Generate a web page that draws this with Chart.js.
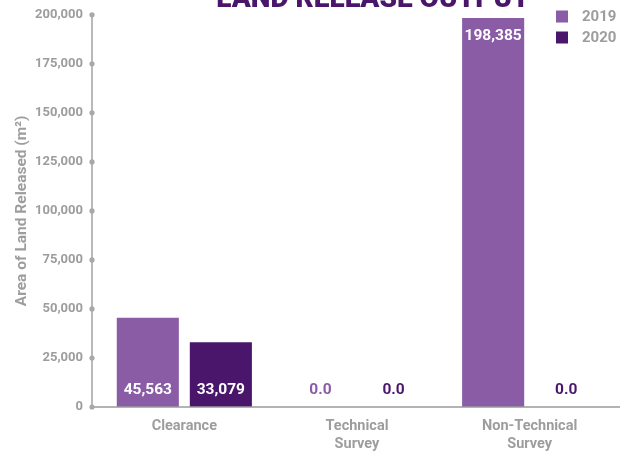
<!DOCTYPE html>
<html>
<head>
<meta charset="utf-8">
<script src="https://cdn.jsdelivr.net/npm/chart.js@4/dist/chart.umd.min.js"></script>
<style>
  html, body { margin: 0; padding: 0; background: #fff; }
  #wrap { width: 620px; height: 454px; position: relative; }
</style>
</head>
<body>
<div id="wrap"><canvas id="landChart"></canvas></div>
<script>
// ==== DATA ====
const categories = [['Clearance'], ['Technical', 'Survey'], ['Non-Technical', 'Survey']];
const seriesNames = ['2019', '2020'];
const values2019 = [45563, 0, 198385];
const values2020 = [33079, 0, 0];
const yTicks = [0, 25000, 50000, 75000, 100000, 125000, 150000, 175000, 200000];

const colors = ['#8a5ca6', '#4a166b'];
const grey = '#9d9d9d';
const fontFam = 'Roboto, "Open Sans", sans-serif';

// ==== PLUGINS ====
const axisPlugin = {
  id: 'axisPlugin',
  afterDatasetsDraw(chart) {
    const c = chart.ctx, area = chart.chartArea, y = chart.scales.y;
    const ax = area.left - 6;
    c.save();
    c.strokeStyle = '#b9b9b9';
    c.lineWidth = 2;
    c.beginPath();
    c.moveTo(ax, y.getPixelForValue(yTicks[yTicks.length - 1]));
    c.lineTo(ax, area.bottom);
    c.stroke();
    c.strokeStyle = '#9a9a9a';
    c.lineWidth = 1.5;
    c.beginPath();
    c.moveTo(ax, area.bottom);
    c.lineTo(chart.width, area.bottom);
    c.stroke();
    c.fillStyle = '#a8a8a8';
    yTicks.forEach(t => {
      c.beginPath();
      c.arc(ax, y.getPixelForValue(t), 2.6, 0, Math.PI * 2);
      c.fill();
    });
    c.restore();
  }
};

const labelPlugin = {
  id: 'labelPlugin',
  afterDatasetsDraw(chart) {
    const c = chart.ctx, area = chart.chartArea;
    c.save();
    c.font = 'bold 15.5px ' + fontFam;
    c.textAlign = 'center';
    c.textBaseline = 'middle';
    chart.data.datasets.forEach((ds, di) => {
      chart.getDatasetMeta(di).data.forEach((bar, i) => {
        const v = ds.data[i];
        let ty = area.bottom - 17;
        if (v === 0) {
          c.fillStyle = ds.backgroundColor;
          c.fillText('0.0', bar.x, ty);
          return;
        }
        if (area.bottom - bar.y > area.height * 0.6) ty = bar.y + 18;
        c.fillStyle = '#ffffff';
        c.fillText(v.toLocaleString('en-US'), bar.x, ty);
      });
    });
    c.restore();
  }
};

const extrasPlugin = {
  id: 'extrasPlugin',
  afterDraw(chart) {
    const c = chart.ctx;
    c.save();
    // title, cut at the top like the reference
    c.font = '900 28px ' + fontFam;
    c.fillStyle = '#4a166b';
    c.textAlign = 'center';
    c.textBaseline = 'alphabetic';
    c.fillText('LAND RELEASE OUTPUT', 373, 7);
    // legend
    c.font = 'bold 15px ' + fontFam;
    c.textAlign = 'left';
    c.textBaseline = 'middle';
    seriesNames.forEach((n, i) => {
      const y = 16.5 + i * 21;
      c.fillStyle = colors[i];
      c.fillRect(556, y - 6, 12, 12);
      c.fillStyle = grey;
      c.fillText(n, 582, y + 1);
    });
    c.restore();
  }
};

// ==== CHART ====
new Chart(document.getElementById('landChart'), {
  type: 'bar',
  data: {
    labels: categories,
    datasets: [
      { label: seriesNames[0], data: values2019, backgroundColor: colors[0] },
      { label: seriesNames[1], data: values2020, backgroundColor: colors[1] }
    ]
  },
  options: {
    responsive: true,
    maintainAspectRatio: false,
    animation: false,
    categoryPercentage: 0.846,
    barPercentage: 0.85,
    layout: { padding: { top: 0, right: 4 } },
    plugins: { legend: { display: false }, tooltip: { enabled: false } },
    scales: {
      x: {
        grid: { display: false },
        border: { display: false },
        ticks: { color: grey, font: { family: fontFam, size: 14.5, weight: 'bold', lineHeight: 1.25 }, padding: 2 },
        afterFit(s) { s.height = 47; }
      },
      y: {
        min: 0,
        max: 200000,
        afterBuildTicks(s) { s.ticks = yTicks.map(v => ({ value: v })); },
        grid: { display: false },
        border: { display: false },
        ticks: {
          color: grey,
          padding: 7,
          font: { family: fontFam, size: 13, weight: 'bold' },
          callback: v => v.toLocaleString('en-US')
        },
        title: {
          display: true,
          text: 'Area of Land Released (m²)',
          color: grey,
          font: { family: fontFam, size: 15.5, weight: 'bold' },
          padding: { top: 13, bottom: 0 }
        },
        afterFit(s) { s.width = 98; }
      }
    }
  },
  plugins: [axisPlugin, labelPlugin, extrasPlugin]
});
</script>
</body>
</html>
